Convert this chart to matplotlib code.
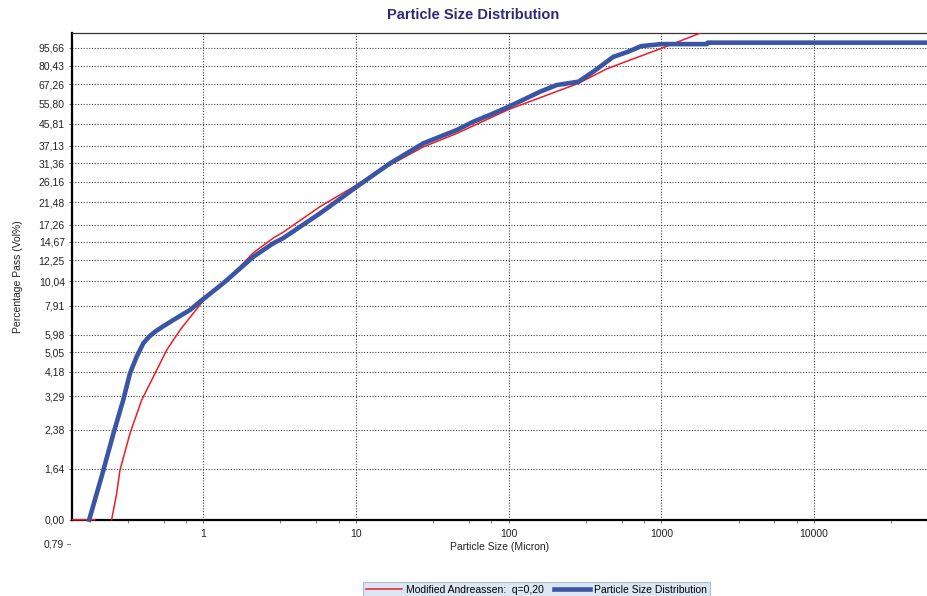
import numpy as np
import matplotlib.pyplot as plt
import matplotlib.transforms as mtransforms
from matplotlib.ticker import NullLocator, NullFormatter, FixedLocator

plt.rcParams['font.family'] = ['Liberation Sans', 'DejaVu Sans']

# measured particle size distribution (micron, vol% passing)
psd_size = [0.179, 0.195, 0.216, 0.258, 0.299, 0.331, 0.366, 0.405, 0.44, 0.483, 0.55, 0.637,
            0.818, 0.951, 1.35, 2.13, 2.87, 3.34, 5.81, 10.1, 16.7, 27.6, 35.5,
            45.7, 58.6, 75.4, 100, 160, 206, 286, 358, 484, 604, 738, 1000, 1990,
            2010, 60000]
psd_pass = [1.0, 1.21, 1.52, 2.30, 3.18, 4.11, 4.83, 5.50, 5.85, 6.15, 6.5, 6.89,
            7.59, 8.22, 9.82, 12.7, 14.45, 15.2, 19.3, 24.96, 31.3, 37.98, 40.5,
            43.2, 46.8, 50.0, 54.1, 62.5, 66.7, 68.9, 75.9, 87.6, 92.0, 97.2, 99.1, 99.1,
            100.5, 100.5]

# modified Andreassen model q=0.20
and_size = [0.1375, 0.195, np.nan, 0.251, 0.271, 0.285, 0.331, 0.395, 0.483, 0.576,
            0.704, 0.86, 1.0, 1.42, 2.13, 2.87, 3.34, 5.81, 10.1, 16.7, 27.6, 45.7,
            100, 286, 438, 604, 1000, 1782, 1900]
and_pass = [1.0, 1.0, np.nan, 1.0, 1.29, 1.62, 2.30, 3.18, 4.11, 5.15,
            6.25, 7.35, 8.3, 10.1, 13.2, 15.2, 16.1, 20.6, 25.4, 30.8, 36.7, 41.8,
            52.7, 67.8, 78.0, 84.3, 95.1, 110, 113]

ytick_vals = [1.0, 1.64, 2.38, 3.29, 4.18, 5.05, 5.98, 7.91, 10.04, 12.25, 14.67,
              17.26, 21.48, 26.16, 31.36, 37.13, 45.81, 55.80, 67.26, 80.43, 95.66]
ytick_labels = ['0,00', '1,64', '2,38', '3,29', '4,18', '5,05', '5,98', '7,91', '10,04',
                '12,25', '14,67', '17,26', '21,48', '26,16', '31,36', '37,13', '45,81',
                '55,80', '67,26', '80,43', '95,66']
xtick_vals = [1, 10, 100, 1000, 10000]
xtick_labels = ['1', '10', '100', '1000', '10000']

W, H = 928, 596
fig = plt.figure(figsize=(W / 100, H / 100), dpi=100)
x0, x1, ytop, ybot = 71.7, 928, 33.3, 519.7
ax = fig.add_axes([x0 / W, 1 - ybot / H, (x1 - x0) / W, (ybot - ytop) / H])

ax.set_xscale('log')
ax.set_yscale('log')
ax.set_xlim(0.1375, 55700)
ax.set_ylim(1.0, 110)

clip = mtransforms.TransformedBbox(mtransforms.Bbox([[0, -0.01], [1, 1]]), ax.transAxes)
red, = ax.plot(and_size, and_pass, color='#ee1c25', lw=1.1, zorder=3,
               label='Modified Andreassen:  q=0,20')
blue, = ax.plot(psd_size, psd_pass, color='#3a55a4', lw=3.3, zorder=4,
                solid_joinstyle='round', label='Particle Size Distribution')
red.set_clip_box(clip)
blue.set_clip_box(clip)

ax.set_yticks(ytick_vals, ytick_labels)
ax.yaxis.set_minor_locator(NullLocator())
ax.set_xticks(xtick_vals, xtick_labels)
minors = [d * m for d in [0.1, 1, 10, 100, 1000, 10000] for m in [3.2, 5.5, 7.7]]
ax.xaxis.set_minor_locator(FixedLocator(minors))
ax.xaxis.set_minor_formatter(NullFormatter())

ax.tick_params(axis='both', which='major', labelsize=7.5, labelcolor='#222222',
               length=2.5, width=0.8, color='#777777')
ax.tick_params(axis='y', pad=2.5)
ax.tick_params(axis='x', pad=4.5)
ax.tick_params(axis='x', which='minor', length=2, width=0.8, color='#888888')

ax.grid(True, which='major', color='#444444', linestyle=(0, (1, 1.5)), lw=0.8)

for s in ['left', 'bottom']:
    ax.spines[s].set_linewidth(1.6)
    ax.spines[s].set_color('black')
ax.spines['top'].set_linewidth(0.9)
ax.spines['top'].set_color('#333333')
ax.spines['right'].set_visible(False)

# label below the axis line
tr = mtransforms.blended_transform_factory(ax.transAxes, ax.transData)
ax.text(-0.0095, 0.79, '0,79', transform=tr, ha='right', va='center',
        fontsize=7.5, color='#222222', clip_on=False)
ax.plot([-0.0055, -0.002], [0.79, 0.79], transform=tr, color='#888888', lw=0.8, clip_on=False)

fig.text(473 / W, 1 - 15 / H, 'Particle Size Distribution', ha='center', va='center',
         fontsize=10.5, fontweight='bold', color='#2e2a7a')
ax.set_xlabel('Particle Size (Micron)', fontsize=7.5, color='#222222', labelpad=2)
fig.text(18 / W, 1 - 276.5 / H, 'Percentage Pass (Vol%)', rotation=90, ha='center',
         va='center', fontsize=7.5, color='#222222')

leg = ax.legend(handles=[red, blue], loc='upper center',
                bbox_to_anchor=(536.5 / W, 1 - 581.7 / H), bbox_transform=fig.transFigure,
                ncol=2, fontsize=7.5, frameon=True, fancybox=False, borderpad=0.3,
                handlelength=3.4, handletextpad=0.4, columnspacing=1.0, borderaxespad=0)
leg.get_frame().set_facecolor('#dce6f2')
leg.get_frame().set_edgecolor('#aabbd4')
leg.get_frame().set_linewidth(0.8)
leg.get_frame().set_alpha(1)

fig.savefig('out.png', dpi=100)
